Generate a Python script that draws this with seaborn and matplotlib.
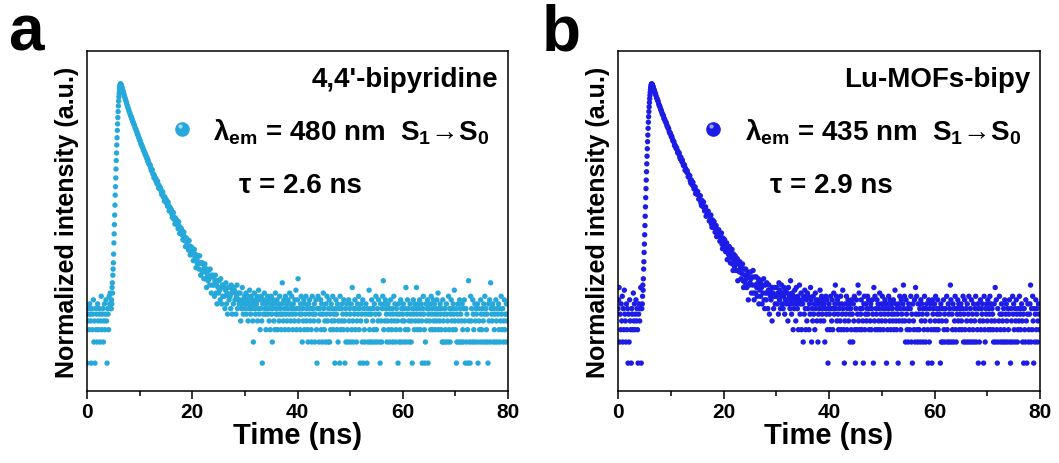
import numpy as np
import pandas as pd
import matplotlib
matplotlib.use('Agg')
import matplotlib.pyplot as plt
import seaborn as sns

# 1. STYLE
sns.set_theme(style="ticks")
plt.rcParams['font.family'] = ['Liberation Sans', 'DejaVu Sans']
plt.rcParams['font.weight'] = 'bold'
plt.rcParams['text.color'] = 'black'
plt.rcParams['axes.labelcolor'] = 'black'
plt.rcParams['xtick.color'] = 'black'
plt.rcParams['mathtext.fontset'] = 'custom'
plt.rcParams['mathtext.rm'] = 'Liberation Sans:bold'
plt.rcParams['mathtext.bf'] = 'Liberation Sans:bold'
plt.rcParams['mathtext.it'] = 'Liberation Sans:bold'
plt.rcParams['mathtext.default'] = 'bf'

# 2. DATA (photon counts)
# time grid: pre-pulse 0-4.5 ns (0.1 ns), rise 4.6-6.95 ns (0.05 ns),
# decay 7.0-29.9 ns (0.1 ns), background 30.0-79.9 ns (0.1 ns)
pre_a = [1, 5, 4, 6, 3, 7, 5, 4, 1, 6,
         3, 5, 8, 2, 4, 1, 6, 3, 5, 2,
         7, 4, 3, 6, 5, 2, 4, 9, 3, 5,
         6, 2, 4, 7, 3, 5, 8, 4, 1, 6,
         5, 3, 9, 7, 10, 6]
rise_a = [6, 8, 7, 12, 14, 10, 18, 22, 27, 36,
          52, 70, 95, 130, 180, 250, 330, 440, 590, 780,
          1000, 1300, 1650, 2100, 2600, 3200, 3900, 4700, 5500, 6300,
          7100, 7900, 8600, 9100, 9500, 9700, 9680, 9500, 9250, 9000,
          8700, 8450, 8200, 7950, 7700, 7500, 7250, 7050]
decay_a = [6890, 6450, 6160, 5770, 5490, 5210, 4880, 4650, 4350, 4170,
           3900, 3780, 3550, 3380, 3290, 3080, 2990, 2800, 2720, 2560,
           2480, 2330, 2210, 2170, 2020, 1970, 1830, 1800, 1670, 1630,
           1520, 1500, 1380, 1320, 1300, 1210, 1190, 1100, 1090, 1010,
           1010, 930, 920, 850, 860, 770, 790, 715, 690, 690,
           664, 610, 561, 578, 575, 503, 502, 445, 476, 440,
           410, 429, 389, 362, 396, 359, 316, 341, 309, 322,
           308, 279, 254, 272, 277, 235, 240, 206, 234, 214,
           198, 213, 188, 173, 199, 177, 149, 169, 150, 161,
           154, 135, 120, 136, 141, 113, 119, 97, 118, 106,
           96, 109, 93, 83, 104, 90, 71, 86, 73, 84,
           79, 67, 58, 69, 74, 56, 61, 46, 62, 54,
           48, 58, 47, 41, 56, 47, 35, 46, 38, 45,
           43, 35, 29, 38, 42, 29, 33, 23, 35, 30,
           26, 34, 26, 22, 34, 27, 18, 27, 21, 27,
           26, 20, 16, 23, 26, 16, 20, 12, 22, 18,
           15, 21, 16, 13, 22, 17, 10, 18, 13, 18,
           17, 13, 9, 15, 18, 10, 13, 7, 15, 12,
           10, 15, 11, 8, 16, 12, 7, 13, 9, 13,
           12, 9, 6, 11, 14, 7, 10, 5, 12, 9,
           8, 12, 9, 6, 13, 10, 5, 11, 7, 12,
           11, 8, 10, 5, 9, 13, 6, 8, 10, 7,
           8, 10, 4, 7, 6, 12, 8, 5, 7, 9]
floor_a = [8, 6, 10, 5, 7, 9, 4, 8, 6, 11,
           7, 5, 9, 6, 8, 4, 2, 7, 10, 6,
           5, 8, 7, 9, 4, 6, 11, 5, 8, 3,
           6, 9, 4, 1, 7, 5, 8, 10, 6, 5,
           3, 7, 6, 9, 5, 8, 4, 6, 3, 7,
           9, 5, 2, 6, 8, 4, 7, 3, 10, 5,
           6, 8, 3, 5, 7, 4, 9, 6, 5, 3,
           7, 14, 5, 4, 8, 6, 3, 9, 5, 7,
           4, 6, 8, 3, 5, 10, 7, 4, 6, 9,
           5, 3, 7, 6, 4, 8, 5, 11, 3, 6,
           8, 16, 4, 6, 5, 3, 7, 9, 5, 2,
           6, 4, 8, 3, 7, 5, 9, 4, 6, 3,
           2, 7, 5, 8, 4, 6, 3, 2, 9, 5,
           6, 4, 7, 2, 5, 8, 3, 1, 6, 9,
           4, 2, 6, 5, 8, 3, 7, 2, 5, 10,
           6, 3, 4, 2, 7, 5, 9, 4, 2, 6,
           8, 2, 5, 3, 7, 4, 6, 9, 3, 5,
           4, 1, 6, 8, 5, 3, 7, 2, 4, 6,
           1, 9, 3, 6, 4, 7, 5, 3, 8, 4,
           1, 6, 2, 5, 7, 3, 2, 8, 4, 6,
           5, 2, 7, 3, 12, 4, 2, 6, 5, 8,
           3, 6, 2, 4, 7, 5, 9, 3, 6, 1,
           4, 7, 5, 2, 8, 1, 6, 3, 2, 5,
           7, 4, 1, 6, 2, 5, 11, 3, 2, 6,
           5, 8, 2, 4, 6, 3, 7, 2, 5, 9,
           3, 2, 6, 4, 8, 5, 2, 1, 7, 4,
           2, 6, 9, 15, 3, 7, 4, 8, 6, 5,
           2, 4, 7, 3, 6, 2, 5, 8, 4, 3,
           6, 2, 5, 9, 4, 7, 2, 3, 6, 5,
           4, 1, 7, 2, 5, 3, 8, 2, 6, 4,
           5, 7, 2, 4, 6, 3, 12, 2, 5, 8,
           3, 6, 4, 2, 7, 5, 2, 4, 1, 6,
           8, 5, 3, 7, 4, 6, 12, 5, 3, 7,
           4, 6, 8, 3, 5, 7, 4, 1, 6, 9,
           5, 3, 1, 2, 7, 4, 6, 8, 1, 5,
           6, 4, 7, 3, 9, 5, 6, 3, 8, 4,
           7, 5, 3, 6, 4, 8, 5, 10, 3, 6,
           4, 7, 5, 3, 6, 2, 8, 4, 2, 5,
           6, 3, 2, 7, 5, 4, 2, 9, 3, 6,
           2, 5, 8, 4, 6, 3, 7, 5, 11, 4,
           3, 6, 1, 2, 5, 7, 4, 2, 8, 6,
           5, 2, 4, 7, 3, 2, 6, 8, 4, 1,
           6, 2, 5, 3, 1, 15, 4, 2, 1, 9,
           4, 6, 2, 8, 5, 3, 2, 7, 4, 6,
           5, 2, 7, 1, 6, 4, 3, 2, 8, 5,
           3, 6, 2, 4, 7, 5, 9, 2, 6, 3,
           5, 2, 1, 7, 4, 8, 2, 14, 6, 5,
           4, 7, 2, 6, 3, 5, 2, 8, 4, 6,
           2, 5, 7, 3, 6, 2, 4, 9, 5, 3,
           6, 2, 4, 8, 3, 5, 2, 7, 4, 5]

pre_b = [6, 8, 12, 2, 5, 3, 7, 4, 9, 2,
         6, 3, 11, 5, 4, 2, 7, 3, 6, 1,
         5, 2, 8, 4, 3, 1, 6, 5, 3, 10,
         4, 7, 3, 5, 8, 4, 6, 3, 1, 5,
         7, 4, 6, 12, 1, 6]
rise_b = [7, 9, 13, 11, 16, 22, 28, 38, 50, 68,
          92, 125, 170, 230, 310, 410, 540, 700, 900, 1150,
          1450, 1800, 2250, 2750, 3300, 3900, 4550, 5250, 5950, 6650,
          7350, 8000, 8600, 9100, 9450, 9650, 9700, 9580, 9400, 9180,
          8950, 8720, 8490, 8260, 8040, 7820, 7610, 7400]
decay_b = [7180, 6980, 6570, 6140, 5980, 5630, 5480, 5050, 4770, 4690,
           4420, 4150, 4070, 3790, 3580, 3510, 3400, 3100, 3080, 2910,
           2780, 2750, 2590, 2410, 2390, 2250, 2230, 2030, 1920, 1935,
           1825, 1710, 1720, 1590, 1490, 1480, 1440, 1280, 1300, 1225,
           1167, 1190, 1111, 1010, 1042, 970, 1001, 877, 821, 875,
           813, 751, 790, 715, 662, 677, 671, 568, 602, 560,
           534, 561, 515, 458, 485, 447, 474, 398, 370, 412,
           381, 348, 381, 337, 306, 326, 328, 263, 293, 270,
           256, 281, 255, 219, 246, 220, 245, 195, 178, 210,
           192, 171, 199, 168, 149, 165, 170, 125, 150, 135,
           128, 147, 130, 107, 126, 112, 130, 97, 87, 111,
           99, 86, 105, 87, 74, 88, 92, 64, 79, 70,
           66, 80, 69, 55, 67, 59, 72, 50, 43, 61,
           54, 44, 58, 46, 39, 48, 52, 30, 44, 37,
           35, 46, 38, 27, 39, 32, 42, 26, 21, 36,
           30, 24, 34, 26, 21, 28, 31, 15, 26, 21,
           20, 28, 23, 16, 23, 19, 26, 15, 12, 22,
           18, 14, 22, 16, 12, 18, 20, 8, 17, 13,
           14, 20, 16, 10, 17, 13, 21, 10, 8, 17,
           13, 10, 17, 12, 9, 14, 16, 7, 13, 11,
           9, 15, 12, 7, 13, 10, 16, 8, 6, 13,
           10, 8, 14, 10, 6, 11, 13, 5, 11, 9,
           8, 10, 4, 12, 10, 6, 9, 12, 7, 9]
floor_b = [9, 12, 7, 10, 5, 14, 8, 11, 6, 9,
           13, 7, 10, 6, 9, 12, 5, 8, 11, 7,
           8, 10, 4, 12, 7, 9, 6, 15, 8, 5,
           10, 7, 3, 9, 6, 11, 8, 4, 12, 7,
           6, 9, 3, 8, 13, 5, 7, 10, 3, 8,
           7, 2, 9, 5, 11, 6, 3, 8, 4, 10,
           6, 9, 3, 7, 5, 12, 8, 2, 6, 4,
           9, 5, 7, 3, 10, 6, 8, 4, 7, 2,
           5, 8, 6, 11, 4, 7, 9, 5, 6, 8,
           4, 7, 2, 6, 9, 5, 8, 3, 1, 6,
           7, 5, 3, 9, 6, 4, 8, 3, 6, 10,
           5, 7, 13, 6, 9, 4, 8, 5, 3, 7,
           6, 4, 9, 3, 7, 5, 11, 6, 3, 1,
           4, 7, 5, 9, 3, 6, 8, 4, 7, 5,
           2, 6, 3, 8, 5, 2, 7, 4, 9, 3,
           1, 6, 8, 3, 5, 13, 4, 10, 3, 6,
           5, 8, 3, 6, 4, 1, 7, 9, 3, 5,
           7, 4, 6, 9, 5, 8, 3, 6, 4, 7,
           3, 6, 8, 5, 1, 12, 4, 9, 3, 6,
           5, 8, 3, 7, 4, 6, 10, 3, 5, 7,
           4, 9, 6, 3, 7, 5, 8, 4, 6, 1,
           7, 3, 5, 9, 6, 4, 8, 3, 7, 5,
           6, 4, 8, 3, 5, 11, 7, 4, 3, 6,
           5, 1, 7, 4, 9, 6, 3, 8, 5, 4,
           7, 13, 6, 9, 4, 2, 8, 5, 3, 6,
           2, 7, 4, 3, 6, 9, 2, 5, 1, 7,
           4, 3, 8, 2, 12, 5, 9, 3, 2, 7,
           5, 3, 6, 2, 8, 4, 7, 5, 2, 6,
           3, 9, 4, 2, 6, 7, 5, 3, 1, 8,
           2, 6, 4, 7, 3, 1, 8, 5, 6, 3,
           7, 4, 9, 3, 6, 5, 8, 3, 4, 6,
           5, 1, 7, 2, 4, 6, 2, 8, 3, 5,
           2, 6, 4, 9, 3, 2, 7, 5, 2, 6,
           13, 8, 2, 5, 3, 7, 2, 6, 4, 9,
           3, 2, 6, 5, 8, 4, 7, 3, 6, 5,
           7, 4, 3, 6, 9, 2, 5, 8, 3, 2,
           6, 4, 7, 2, 5, 9, 3, 2, 6, 4,
           8, 2, 5, 3, 7, 2, 4, 6, 9, 2,
           5, 3, 7, 1, 6, 2, 4, 8, 3, 6,
           5, 7, 4, 1, 9, 3, 2, 6, 5, 7,
           4, 8, 3, 6, 5, 9, 3, 7, 4, 6,
           5, 3, 2, 7, 4, 12, 2, 8, 3, 1,
           6, 2, 4, 9, 5, 3, 2, 7, 5, 4,
           2, 6, 3, 8, 2, 5, 7, 4, 2, 6,
           3, 5, 8, 2, 1, 6, 4, 2, 9, 5,
           7, 3, 2, 6, 4, 8, 5, 2, 3, 6,
           4, 9, 5, 3, 6, 7, 4, 2, 5, 1,
           6, 3, 2, 8, 4, 1, 5, 7, 2, 3,
           5, 7, 13, 2, 6, 3, 9, 4, 1, 6,
           2, 5, 8, 3, 6, 2, 4, 7, 5, 3]

panel_letters = ['a', 'b']
sample_names = ["4,4'-bipyridine", 'Lu-MOFs-bipy']
emission_nm = ['480', '435']
lifetimes_ns = ['2.6', '2.9']
colors = ['#26A8DA', '#1C1CE6']


def build_trace(pre, rise, decay, floor):
    t = np.concatenate([np.arange(len(pre)) * 0.1,
                        4.6 + np.arange(len(rise)) * 0.05,
                        7.0 + np.arange(len(decay)) * 0.1,
                        30.0 + np.arange(len(floor)) * 0.1])
    c = np.concatenate([pre, rise, decay, floor]).astype(float)
    return pd.DataFrame({'Time': t, 'Counts': c})


traces = [build_trace(pre_a, rise_a, decay_a, floor_a),
          build_trace(pre_b, rise_b, decay_b, floor_b)]

# 3. FIGURE
fig = plt.figure(figsize=(10.59, 4.64), dpi=100)
ax_rects = [[0.0822, 0.1552, 0.3975, 0.7328],
            [0.5836, 0.1552, 0.3985, 0.7328]]
letter_x = [0.008, 0.512]

for i in range(2):
    ax = fig.add_axes(ax_rects[i])
    sns.scatterplot(data=traces[i], x='Time', y='Counts', ax=ax,
                    color=colors[i], s=15, linewidth=0, edgecolor='none')
    ax.set_yscale('log')
    ax.set_xlim(0, 80)
    ax.set_ylim(0.4, 2.86e4)
    ax.set_xticks([0, 20, 40, 60, 80])
    ax.set_xticks([10, 30, 50, 70], minor=True)
    ax.tick_params(axis='y', which='both', left=False, labelleft=False)
    ax.tick_params(axis='x', which='major', length=6, width=1.1,
                   direction='out', labelsize=15, pad=2, colors='black')
    ax.tick_params(axis='x', which='minor', length=3.5, width=1.1,
                   direction='out', colors='black')
    for sp in ax.spines.values():
        sp.set_color('black')
        sp.set_linewidth(1.1)
    ax.set_xlabel('Time (ns)', fontsize=21, fontweight='bold', labelpad=0)
    ax.set_ylabel('Normalized intensity (a.u.)', fontsize=18,
                  fontweight='bold', labelpad=6)

    ax.text(0.978, 0.918, sample_names[i], transform=ax.transAxes,
            ha='right', va='center', fontsize=20, fontweight='bold')
    ax.plot([0.226], [0.771], marker='o', markersize=9.5, color=colors[i],
            transform=ax.transAxes, clip_on=False)
    ax.plot([0.221], [0.778], marker='o', markersize=3, color='white',
            alpha=0.6, markeredgewidth=0, transform=ax.transAxes)
    ax.text(0.300, 0.741,
            r'λ$_{em}$ = ' + emission_nm[i] + r' nm  S$_1$→S$_0$',
            transform=ax.transAxes, ha='left', va='baseline',
            fontsize=20, fontweight='bold')
    ax.text(0.360, 0.585, 'τ = ' + lifetimes_ns[i] + ' ns',
            transform=ax.transAxes, ha='left', va='baseline',
            fontsize=20, fontweight='bold')

    fig.text(letter_x[i], 0.892, panel_letters[i], fontsize=46,
             fontweight='bold', ha='left', va='baseline')

fig.savefig('out.png', dpi=100)
